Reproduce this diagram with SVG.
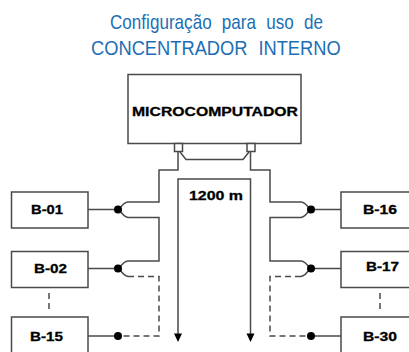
<svg xmlns="http://www.w3.org/2000/svg" width="409" height="352" viewBox="0 0 409 352">
<style>
.t{font-family:"Liberation Sans",Arial,sans-serif;font-size:20px;fill:#1c6fb5;word-spacing:6.400px}
.b{font-family:"Liberation Sans",Arial,sans-serif;font-weight:bold;fill:#000;font-size:13px;stroke:#000;stroke-width:.3}
.n{fill:#fff;stroke:#4a4a4a;stroke-width:1.5}
.l{fill:none;stroke:#4a4a4a;stroke-width:1.5}
.d{fill:none;stroke:#4a4a4a;stroke-width:1.5;stroke-dasharray:6 4}
.a{fill:#000}
</style>
<rect width="409" height="352" fill="#fff"/>
<text class="t" transform="translate(110,28.500) scale(.855,1)">Configuração para uso de</text>
<text class="t" transform="translate(91,55) scale(.915,1)">CONCENTRADOR INTERNO</text>
<g id="connectors">
<path class="l" d="M178 152V170H159V202H128Q124 202 119 209.500Q124 217 128 217.500H159V261H128Q124 261 119 268.500Q124 276 128 276.500"/>
<path class="l" d="M180 152L186 159.500H243L249 152"/>
<path class="l" d="M250.500 152V170H270V202H301Q305 202 310 209.500Q305 217 301 217.500H270V261H301Q305 261 310 268.500Q305 276 301 276.500"/>
<path class="d" d="M128 276.500H159V336H118"/>
<path class="d" d="M301 276.500H270V336H311"/>
<path class="l" d="M88 209.500H118M88 268.500H118M88 336H118M341 209.500H311M341 268.500H311M341 336H311"/>
<circle class="a" cx="118" cy="209.500" r="4"/><circle class="a" cx="118" cy="268.500" r="4"/><circle class="a" cx="118" cy="336" r="4"/>
<circle class="a" cx="311" cy="209.500" r="4"/><circle class="a" cx="311" cy="268.500" r="4"/><circle class="a" cx="311" cy="336" r="4"/>
<path class="l" d="M178 340V179H250.500V340"/>
<path class="a" d="M174 333.500H182L178 342ZM246.500 333.500H254.500L250.500 342Z"/>
<path class="d" d="M49 293V312M380 293V312"/>
</g>
<g id="microcomputador">
<rect class="n" x="128" y="74.500" width="173" height="69"/>
<rect class="n" x="174.500" y="143.500" width="8" height="8"/>
<rect class="n" x="247" y="143.500" width="8" height="8"/>
<text class="b" x="132" y="115.500" textLength="166" lengthAdjust="spacingAndGlyphs">MICROCOMPUTADOR</text>
</g>
<g id="label-1200"><text class="b" x="189" y="200" textLength="54" lengthAdjust="spacingAndGlyphs">1200 m</text></g>
<g id="b01"><rect class="n" x="11.500" y="192" width="76.500" height="36"/><text class="b" x="31" y="214" textLength="32" lengthAdjust="spacingAndGlyphs">B-01</text></g>
<g id="b02"><rect class="n" x="11.500" y="251.500" width="76.500" height="36"/><text class="b" x="34" y="272.500" textLength="33" lengthAdjust="spacingAndGlyphs">B-02</text></g>
<g id="b15"><rect class="n" x="11.500" y="317" width="76.500" height="40"/><text class="b" x="30" y="341" textLength="33" lengthAdjust="spacingAndGlyphs">B-15</text></g>
<g id="b16"><rect class="n" x="341" y="192" width="80" height="36"/><text class="b" x="363" y="214" textLength="34" lengthAdjust="spacingAndGlyphs">B-16</text></g>
<g id="b17"><rect class="n" x="341" y="251.500" width="80" height="36"/><text class="b" x="366" y="271" textLength="33" lengthAdjust="spacingAndGlyphs">B-17</text></g>
<g id="b30"><rect class="n" x="341" y="317" width="80" height="40"/><text class="b" x="363" y="341" textLength="34" lengthAdjust="spacingAndGlyphs">B-30</text></g>
</svg>
